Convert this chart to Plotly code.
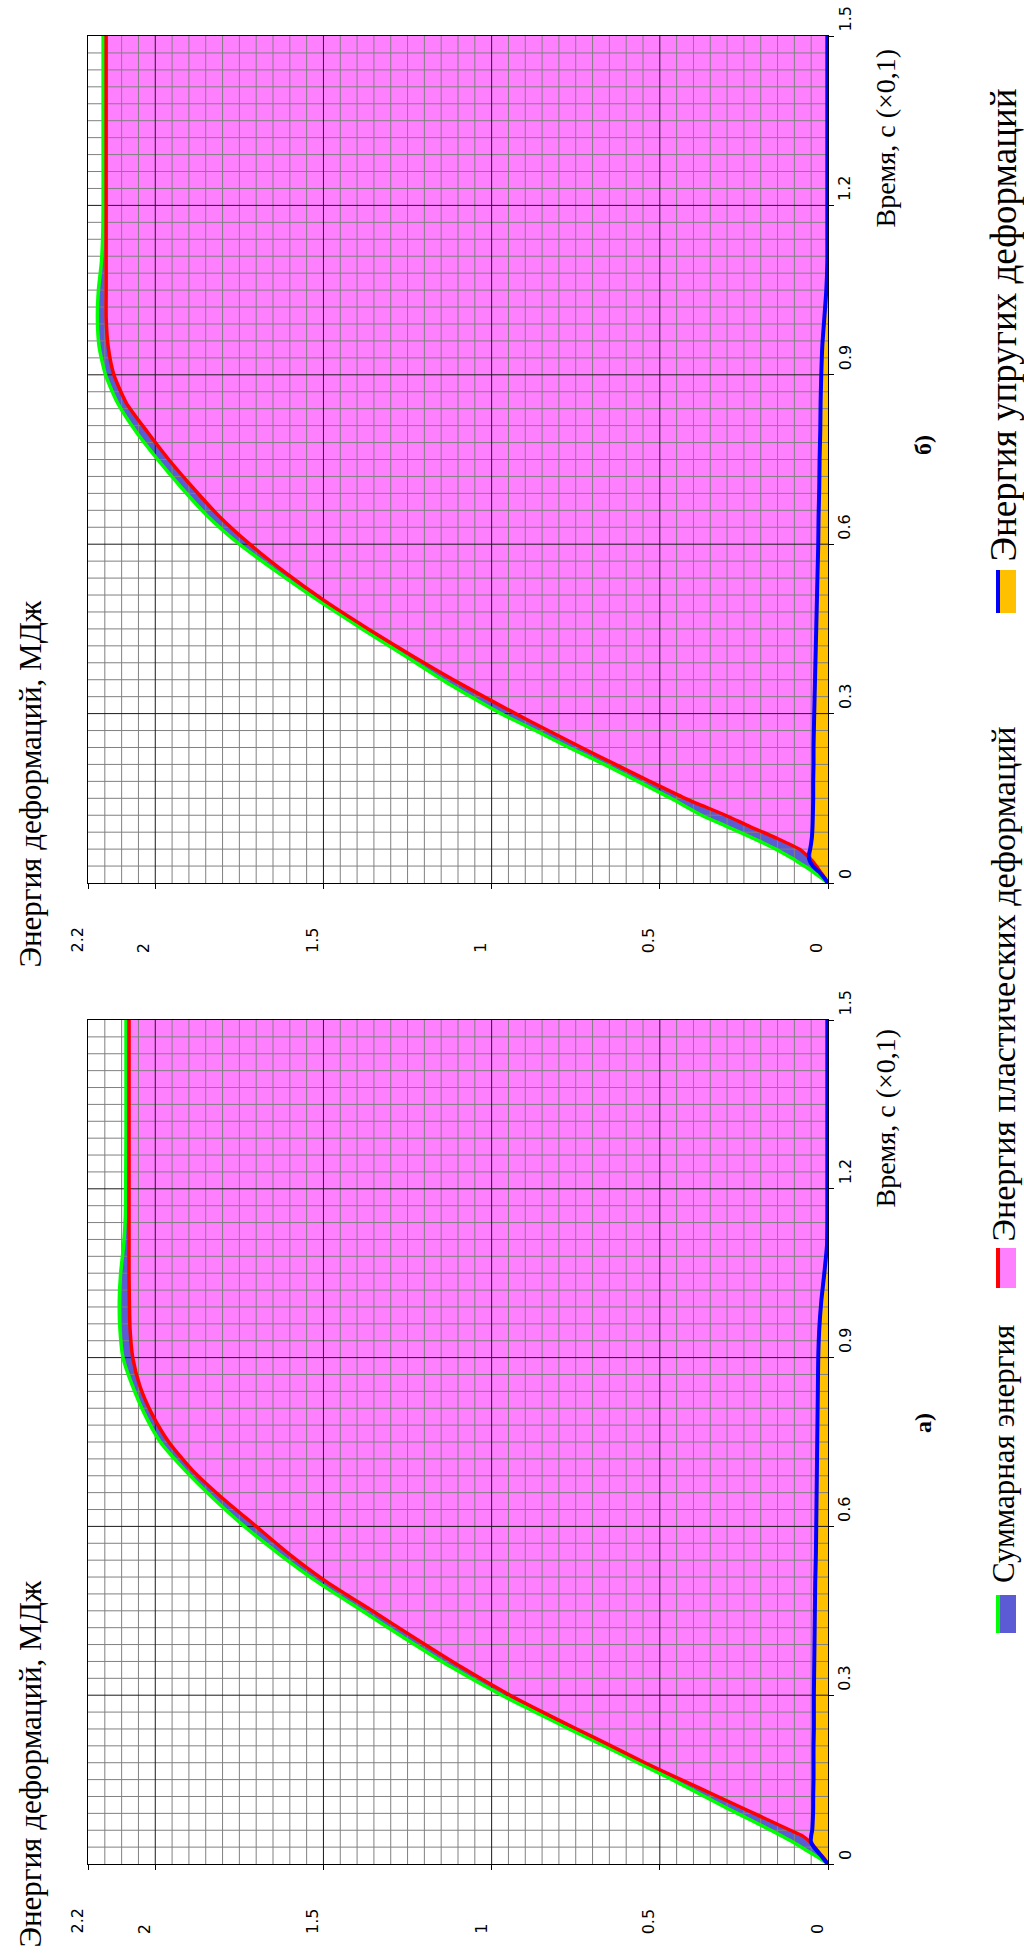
import plotly.graph_objects as go

W, H = 1024, 1959

# Time, s (x0.1)
time_s = [0, 0.01, 0.02, 0.03, 0.04, 0.05, 0.06, 0.08, 0.1, 0.12, 0.15, 0.18,
          0.21, 0.24, 0.27, 0.3, 0.35, 0.4, 0.45, 0.5, 0.55, 0.6, 0.65, 0.7,
          0.75, 0.8, 0.85, 0.9, 0.95, 1.0, 1.05, 1.1, 1.15, 1.2, 1.3, 1.4, 1.5]

# Panel а) — strain energy, MJ
total_a = [0, 0.025, 0.052, 0.08, 0.107, 0.138, 0.17, 0.236, 0.303, 0.367, 0.463,
           0.565, 0.665, 0.77, 0.87, 0.97, 1.12, 1.255, 1.385, 1.515, 1.63, 1.735,
           1.828, 1.912, 1.985, 2.032, 2.068, 2.096, 2.105, 2.107, 2.103, 2.094,
           2.089, 2.088, 2.087, 2.087, 2.087]
plastic_a = [0, 0.012, 0.026, 0.04, 0.055, 0.076, 0.112, 0.184, 0.256, 0.328, 0.437,
             0.544, 0.645, 0.747, 0.848, 0.945, 1.09, 1.224, 1.355, 1.487, 1.6, 1.7,
             1.8, 1.89, 1.96, 2.01, 2.046, 2.067, 2.075, 2.077, 2.078, 2.078,
             2.078, 2.078, 2.078, 2.078, 2.078]
elastic_a = [0, 0.014, 0.028, 0.042, 0.051, 0.05, 0.047, 0.045, 0.044, 0.044, 0.043,
             0.043, 0.043, 0.042, 0.042, 0.042, 0.041, 0.04, 0.039, 0.038, 0.036,
             0.035, 0.034, 0.033, 0.032, 0.031, 0.03, 0.029, 0.026, 0.02, 0.011,
             0.003, 0.002, 0.002, 0.002, 0.002, 0.002]

# Panel б)
total_b = [0, 0.022, 0.045, 0.07, 0.096, 0.125, 0.155, 0.225, 0.3, 0.376, 0.467,
           0.565, 0.665, 0.77, 0.87, 0.972, 1.12, 1.252, 1.385, 1.515, 1.636, 1.75,
           1.845, 1.922, 1.993, 2.058, 2.112, 2.148, 2.167, 2.172, 2.169, 2.16,
           2.156, 2.155, 2.155, 2.155, 2.155]
plastic_b = [0, 0.011, 0.023, 0.035, 0.048, 0.065, 0.085, 0.155, 0.232, 0.305, 0.425,
             0.53, 0.632, 0.733, 0.832, 0.929, 1.084, 1.229, 1.367, 1.497, 1.614, 1.719,
             1.811, 1.888, 1.96, 2.025, 2.086, 2.123, 2.14, 2.146, 2.146, 2.146,
             2.146, 2.146, 2.146, 2.146, 2.146]
elastic_b = [0, 0.013, 0.027, 0.045, 0.055, 0.057, 0.053, 0.048, 0.046, 0.045, 0.044,
             0.044, 0.043, 0.043, 0.042, 0.041, 0.039, 0.037, 0.035, 0.033, 0.031,
             0.029, 0.028, 0.026, 0.025, 0.023, 0.022, 0.02, 0.017, 0.011, 0.005,
             0.002, 0.002, 0.002, 0.002, 0.002, 0.002]

energy_ticks = [0, 0.5, 1, 1.5, 2, 2.2]
energy_tick_text = ["0", "0.5", "1", "1.5", "2", "2.2"]
time_ticks = [0, 0.3, 0.6, 0.9, 1.2, 1.5]
time_tick_text = ["0", "0.3", "0.6", "0.9", "1.2", "1.5"]

series_names = ["Суммарная энергия", "Энергия пластических деформаций",
                "Энергия упругих деформаций"]

E_MAX, T_MAX = 2.2, 1.5

GREEN, TOTAL_FILL = "#00ff00", "#5b5bd6"
RED, PINK = "#ff0000", "#ff80ff"
BLUE, ORANGE = "#0000ff", "#ffc000"
GRID_MINOR, GRID_MAJOR = "#808080", "#1a1a1a"

SERIF = "Liberation Serif, Times New Roman, serif"
SANS = "DejaVu Sans, Verdana, sans-serif"


def px(x):
    return x / W


def py(y):
    return 1 - y / H


X_DOM = [px(88), px(828)]
panels = [
    dict(xa="x", ya="y", ydom=[py(1864), py(1020)], tot=total_a, pla=plastic_a,
         ela=elastic_a, tick_bottom=1936, title_bottom=1950, time_title=1210,
         tag="а)", tag_y=1423),
    dict(xa="x2", ya="y2", ydom=[py(883), py(36)], tot=total_b, pla=plastic_b,
         ela=elastic_b, tick_bottom=955, title_bottom=970, time_title=230,
         tag="б)", tag_y=445),
]

fig = go.Figure()


def grid_trace(xa, ya, e_vals, t_vals, color, width):
    xs, ys = [], []
    for e in e_vals:
        xs += [e, e, None]
        ys += [0, T_MAX, None]
    for t in t_vals:
        xs += [0, E_MAX, None]
        ys += [t, t, None]
    return go.Scatter(x=xs, y=ys, xaxis=xa, yaxis=ya, mode="lines",
                      line=dict(color=color, width=width), hoverinfo="skip",
                      showlegend=False)


minor_e = [round(0.05 * k, 2) for k in range(1, 44) if k % 10]
major_e = [0.5, 1.0, 1.5, 2.0]
minor_t = [round(0.03 * k, 2) for k in range(1, 50) if k % 10]
major_t = [0.3, 0.6, 0.9, 1.2]

for p in panels:
    xa, ya = p["xa"], p["ya"]
    # filled areas (total behind, plastic, elastic on top)
    for vals, fc in ((p["tot"], TOTAL_FILL), (p["pla"], PINK), (p["ela"], ORANGE)):
        fig.add_trace(go.Scatter(x=vals, y=time_s, xaxis=xa, yaxis=ya, mode="lines",
                                 line=dict(width=0, shape="spline", smoothing=0.6),
                                 fill="tozerox", fillcolor=fc, hoverinfo="skip",
                                 showlegend=False))
    # grid over the areas
    fig.add_trace(grid_trace(xa, ya, minor_e, minor_t, GRID_MINOR, 1))
    fig.add_trace(grid_trace(xa, ya, major_e, major_t, GRID_MAJOR, 1))
    # curves
    for vals, lc, lw, name in ((p["tot"], GREEN, 3.5, series_names[0]),
                               (p["pla"], RED, 3.5, series_names[1]),
                               (p["ela"], BLUE, 4, series_names[2])):
        fig.add_trace(go.Scatter(x=vals, y=time_s, xaxis=xa, yaxis=ya, mode="lines",
                                 line=dict(color=lc, width=lw, shape="spline",
                                           smoothing=0.6),
                                 name=name, showlegend=False))

annotations = []


def vtext(text, x, y, size, family, xref="paper", yref="paper", xanchor="center",
          yanchor="bottom", xshift=0, yshift=0):
    annotations.append(dict(text=text, x=x, y=y, xref=xref, yref=yref,
                            xanchor=xanchor, yanchor=yanchor, textangle=-90,
                            showarrow=False, xshift=xshift, yshift=yshift,
                            font=dict(family=family, size=size, color="black")))


for p in panels:
    for v, lab in zip(energy_ticks, energy_tick_text):
        vtext(lab, v, py(p["tick_bottom"]), 16, SANS, xref=p["xa"], xshift=-11)
    for v, lab in zip(time_ticks, time_tick_text):
        vtext(lab, px(845), v, 16, SANS, yref=p["ya"], yshift=2)
    vtext("Энергия деформаций, МДж", px(30), py(p["title_bottom"]), 31, SERIF)
    vtext("Время, с (×0,1)", px(885), py(p["time_title"]), 28, SERIF)
    vtext("<b>" + p["tag"] + "</b>", px(923), py(p["tag_y"]), 24, SERIF,
          yanchor="middle")

# legend: swatch (border line + fill) followed by the label
shapes = []
legend_items = [
    (series_names[0], GREEN, TOTAL_FILL, 1595, 1633, 1585, 31),
    (series_names[1], RED, PINK, 1248, 1288, 1244, 34),
    (series_names[2], BLUE, ORANGE, 570, 613, 564, 37),
]
for name, lc, fc, y0, y1, text_bottom, fs in legend_items:
    shapes.append(dict(type="rect", xref="paper", yref="paper", x0=px(1000),
                       x1=px(1016), y0=py(y1), y1=py(y0), fillcolor=fc,
                       line=dict(width=0)))
    shapes.append(dict(type="rect", xref="paper", yref="paper", x0=px(996),
                       x1=px(1000), y0=py(y1), y1=py(y0), fillcolor=lc,
                       line=dict(width=0)))
    vtext(name, px(1003), py(text_bottom), fs, SERIF)


def axis_pair(p):
    xaxis = dict(domain=X_DOM, range=[E_MAX, 0], anchor=p["ya"], showgrid=False,
                 zeroline=False, showline=True, mirror=True, linecolor="#000000",
                 linewidth=1, ticks="outside", tickvals=energy_ticks, ticklen=5,
                 tickcolor="#000000", showticklabels=False, fixedrange=True)
    yaxis = dict(domain=p["ydom"], range=[0, T_MAX], anchor=p["xa"], side="right",
                 showgrid=False, zeroline=False, showline=True, mirror=True,
                 linecolor="#000000", linewidth=1, ticks="outside",
                 tickvals=time_ticks, ticklen=5, tickcolor="#000000",
                 showticklabels=False, fixedrange=True)
    return xaxis, yaxis


xa1, ya1 = axis_pair(panels[0])
xa2, ya2 = axis_pair(panels[1])

fig.update_layout(
    width=W, height=H, margin=dict(l=0, r=0, t=0, b=0),
    paper_bgcolor="white", plot_bgcolor="white",
    xaxis=xa1, yaxis=ya1, xaxis2=xa2, yaxis2=ya2,
    annotations=annotations, shapes=shapes, showlegend=False,
)

fig.write_html("out.html", config={"displayModeBar": False})
